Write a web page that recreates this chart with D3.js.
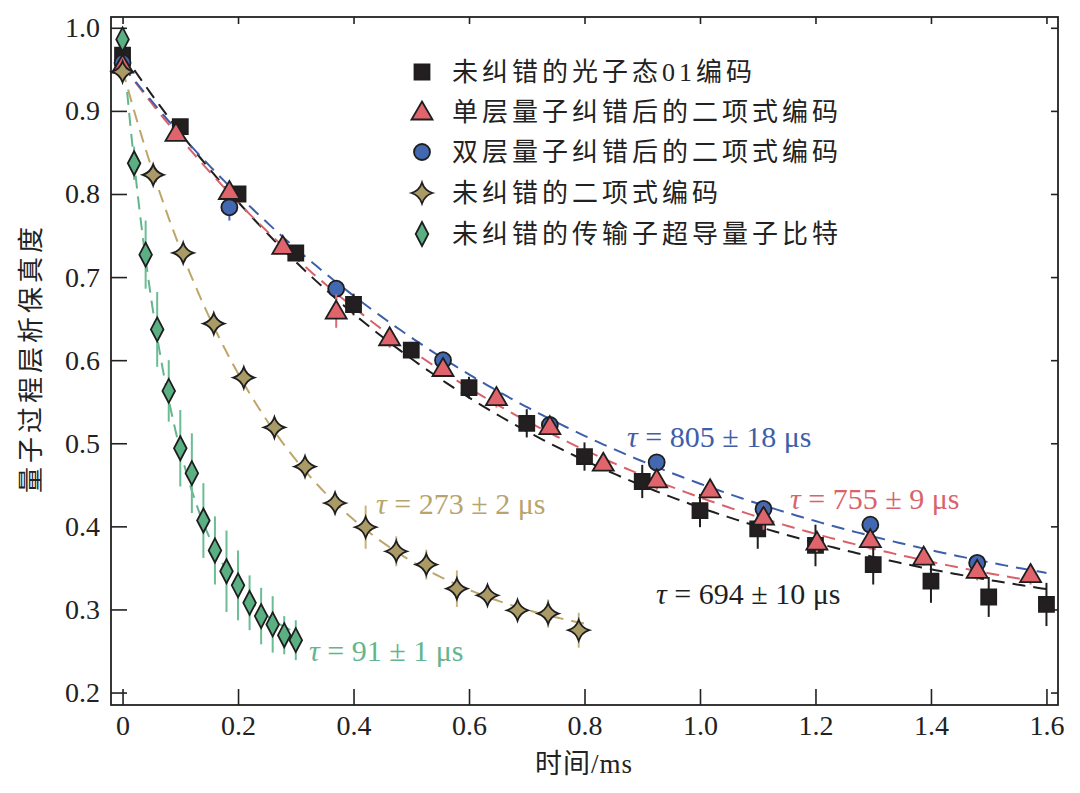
<!DOCTYPE html>
<html><head><meta charset="utf-8">
<script src="https://cdn.jsdelivr.net/npm/d3@7"></script>
<style>
body{margin:0;background:#fff;}
text{font-family:"Liberation Serif","Times New Roman",Times,"DejaVu Serif","Noto Sans CJK SC",serif;}
</style></head>
<body><svg id="c" width="1080" height="793"></svg>
<script>
// ---- data ----
const xTicks = [0, 0.2, 0.4, 0.6, 0.8, 1.0, 1.2, 1.4, 1.6];
const xTickLabels = ["0", "0.2", "0.4", "0.6", "0.8", "1.0", "1.2", "1.4", "1.6"];
const yTicks = [0.2, 0.3, 0.4, 0.5, 0.6, 0.7, 0.8, 0.9, 1.0];
const yTickLabels = ["0.2", "0.3", "0.4", "0.5", "0.6", "0.7", "0.8", "0.9", "1.0"];

const seriesNames = ["未纠错的光子态01编码", "单层量子纠错后的二项式编码", "双层量子纠错后的二项式编码", "未纠错的二项式编码", "未纠错的传输子超导量子比特"];

const blackX = [0, 0.1, 0.2, 0.3, 0.4, 0.5, 0.6, 0.7, 0.8, 0.9, 1.0, 1.1, 1.2, 1.3, 1.4, 1.5, 1.6];
const blackY = [0.967, 0.881, 0.800, 0.729, 0.667, 0.612, 0.567, 0.524, 0.484, 0.454, 0.419, 0.397, 0.377, 0.354, 0.334, 0.315, 0.306];
const blackErr = [0.008, 0.006, 0.006, 0.006, 0.013, 0.010, 0.013, 0.017, 0.017, 0.020, 0.020, 0.024, 0.025, 0.024, 0.026, 0.024, 0.026];

const redX = [0, 0.0925, 0.185, 0.2775, 0.37, 0.4625, 0.555, 0.6475, 0.74, 0.8325, 0.925, 1.0175, 1.11, 1.2025, 1.295, 1.3875, 1.48, 1.5725];
const redY = [0.955, 0.873, 0.803, 0.737, 0.659, 0.627, 0.590, 0.555, 0.520, 0.476, 0.456, 0.444, 0.411, 0.381, 0.384, 0.363, 0.347, 0.342];
const redErr = [0.006, 0.006, 0.006, 0.006, 0.020, 0.012, 0.008, 0.012, 0.008, 0.008, 0.012, 0.010, 0.015, 0.012, 0.012, 0.010, 0.012, 0.012];

const blueX = [0, 0.185, 0.37, 0.555, 0.74, 0.925, 1.11, 1.295, 1.48];
const blueY = [0.958, 0.784, 0.686, 0.600, 0.522, 0.477, 0.421, 0.402, 0.356];
const blueErr = [0.005, 0.016, 0.008, 0.006, 0.010, 0.006, 0.008, 0.008, 0.006];

const goldX = [0, 0.053, 0.105, 0.158, 0.21, 0.263, 0.316, 0.368, 0.421, 0.474, 0.526, 0.579, 0.632, 0.684, 0.737, 0.79];
const goldY = [0.947, 0.823, 0.729, 0.644, 0.579, 0.519, 0.472, 0.428, 0.399, 0.370, 0.354, 0.325, 0.317, 0.299, 0.295, 0.275];
const goldErr = [0.006, 0.010, 0.010, 0.010, 0.010, 0.012, 0.012, 0.014, 0.026, 0.018, 0.018, 0.022, 0.012, 0.010, 0.017, 0.021];

const greenX = [0, 0.02, 0.04, 0.06, 0.08, 0.10, 0.12, 0.14, 0.16, 0.18, 0.20, 0.22, 0.24, 0.26, 0.28, 0.30];
const greenY = [0.986, 0.837, 0.727, 0.637, 0.563, 0.494, 0.464, 0.407, 0.371, 0.346, 0.329, 0.308, 0.292, 0.282, 0.269, 0.263];
const greenErr = [0.006, 0.020, 0.041, 0.045, 0.037, 0.046, 0.048, 0.045, 0.041, 0.049, 0.042, 0.033, 0.034, 0.034, 0.023, 0.024];

// exponential fits F = A*exp(-t/tau) + C  (tau in ms, as labelled)
const fitTau   = [0.694, 0.755, 0.805, 0.273, 0.091];
const fitA     = [0.717, 0.7086, 0.7077, 0.7046, 0.740];
const fitC     = [0.253, 0.2464, 0.247, 0.2454, 0.245];
const fitStart = [0, 0, 0, 0, 0.008];
const fitEnd   = [1.6, 1.6, 1.6, 0.8, 0.30];
const fitLabels = ["694 ± 10 μs", "755 ± 9 μs", "805 ± 18 μs", "273 ± 2 μs", "91 ± 1 μs"];

// ---- styles ----
const SERIF = '"Liberation Serif","Times New Roman",Times,"DejaVu Serif",serif';
const lineColors = ["#1f1f1f", "#d9626a", "#3d5ea9", "#bea66a", "#63b58d"];
const fillColors = ["#231f20", "#e0646b", "#4368b2", "#a99a66", "#5bb083"];
const errColors  = ["#1f1f1f", "#de6b72", "#4a6cb5", "#c8b57e", "#6cbc94"];
const textColors = ["#1f1f1f", "#d9636b", "#3f5ea8", "#b7a46d", "#63b58d"];
const labelPos = [[656, 593], [790, 498], [627, 436], [376, 503], [309, 650]];

const svg = d3.select("#c");
svg.append("rect").attr("width", 1080).attr("height", 793).attr("fill", "#fff");

const x = d3.scaleLinear().domain([-0.02, 1.62]).range([111, 1058]);
const y = d3.scaleLinear().domain([0.185, 1.013]).range([705, 17]);

// axes
const axColor = "#222";
function styleAxis(g){
  g.attr("font-family", null).attr("font-size", null);
  g.select(".domain").remove();
  g.selectAll(".tick line").attr("stroke", axColor).attr("stroke-width", 1.6);
  g.selectAll("text").attr("fill", "#222").style("font-size", "28px")
    .style("font-family", SERIF);
}
svg.append("g").attr("transform", "translate(0,705)")
  .call(d3.axisBottom(x).tickValues(xTicks).tickFormat((d, i) => xTickLabels[i]).tickSize(-16).tickPadding(10))
  .call(styleAxis);
svg.append("g").attr("transform", "translate(0,17)")
  .call(d3.axisTop(x).tickValues(xTicks).tickFormat("").tickSize(-7))
  .call(styleAxis);
svg.append("g").attr("transform", "translate(111,0)")
  .call(d3.axisLeft(y).tickValues(yTicks).tickFormat((d, i) => yTickLabels[i]).tickSize(-16).tickPadding(11))
  .call(styleAxis);
svg.append("g").attr("transform", "translate(1058,0)")
  .call(d3.axisRight(y).tickValues(yTicks).tickFormat("").tickSize(-7))
  .call(styleAxis);

svg.append("rect").attr("x", 111).attr("y", 17).attr("width", 947).attr("height", 688)
  .attr("fill", "none").attr("stroke", axColor).attr("stroke-width", 1.8);

// axis titles
svg.append("text").attr("x", 584).attr("y", 773).attr("text-anchor", "middle")
  .style("font-size", "27px").style("letter-spacing", "1px").attr("fill", "#222").text("时间/ms");
svg.append("text").attr("transform", "translate(40,358) rotate(-90)").attr("text-anchor", "middle")
  .style("font-size", "26px").style("letter-spacing", "4px").attr("fill", "#222").text("量子过程层析保真度");

// fit curves
const plot = svg.append("g");
fitTau.forEach((tau, k) => {
  const n = 200;
  const pts = d3.range(n + 1).map(i => {
    const t = fitStart[k] + (fitEnd[k] - fitStart[k]) * i / n;
    return [t, fitA[k] * Math.exp(-t / tau) + fitC[k]];
  });
  plot.append("path").datum(pts)
    .attr("d", d3.line().x(d => x(d[0])).y(d => y(d[1])))
    .attr("fill", "none").attr("stroke", lineColors[k]).attr("stroke-width", 2)
    .attr("stroke-dasharray", "13,8");
});

// marker shapes
function markerPath(kind){
  if (kind === 0) { const s = 7.5; return `M${-s},${-s}H${s}V${s}H${-s}Z`; }
  if (kind === 1) { return "M0,-10.5L10.5,7.5L-10.5,7.5Z"; }
  if (kind === 2) { const r = 8; return `M${r},0A${r},${r} 0 1,1 ${-r},0A${r},${r} 0 1,1 ${r},0Z`; }
  if (kind === 3) { const r = 10.5, c = 2.5; return `M0,${-r}Q${c},${-c} ${r},0Q${c},${c} 0,${r}Q${-c},${c} ${-r},0Q${-c},${-c} 0,${-r}Z`; }
  return "M0,-12L6.3,0L0,12L-6.3,0Z";
}

const allSeries = [
  [blackX, blackY, blackErr],
  [redX, redY, redErr],
  [blueX, blueY, blueErr],
  [goldX, goldY, goldErr],
  [greenX, greenY, greenErr]
];
const drawOrder = [0, 2, 1, 3, 4];
drawOrder.forEach(k => {
  const [xs, ys, es] = allSeries[k];
  const data = xs.map((v, i) => ({x: v, y: ys[i], e: es[i]}));
  const g = plot.append("g");
  g.selectAll("line.err").data(data).enter().append("line")
    .attr("x1", d => x(d.x)).attr("x2", d => x(d.x))
    .attr("y1", d => y(d.y - d.e)).attr("y2", d => y(d.y + d.e))
    .attr("stroke", errColors[k]).attr("stroke-width", 2);
  g.selectAll("path.m").data(data).enter().append("path")
    .attr("transform", d => `translate(${x(d.x)},${y(d.y)})`)
    .attr("d", markerPath(k))
    .attr("fill", fillColors[k]).attr("stroke", "#1e1e1e").attr("stroke-width", 1.8)
    .attr("stroke-linejoin", "miter");
});

// fit labels
fitLabels.forEach((lab, k) => {
  const t = svg.append("text").attr("x", labelPos[k][0]).attr("y", labelPos[k][1]).attr("dy", "0.35em")
    .attr("fill", textColors[k]).style("font-size", "30px").style("font-family", SERIF);
  t.append("tspan").style("font-style", "italic").text("τ");
  t.append("tspan").text(" = " + lab);
});

// legend
const legY = [72, 112, 152, 193, 234];
seriesNames.forEach((name, k) => {
  svg.append("path").attr("transform", `translate(422,${legY[k]})`).attr("d", markerPath(k))
    .attr("fill", fillColors[k]).attr("stroke", "#1e1e1e").attr("stroke-width", 1.8);
  svg.append("text").attr("x", 452).attr("y", legY[k]).attr("dy", "0.36em")
    .style("font-size", "26px").style("letter-spacing", "4px").attr("fill", "#222").text(name);
});
</script></body></html>
